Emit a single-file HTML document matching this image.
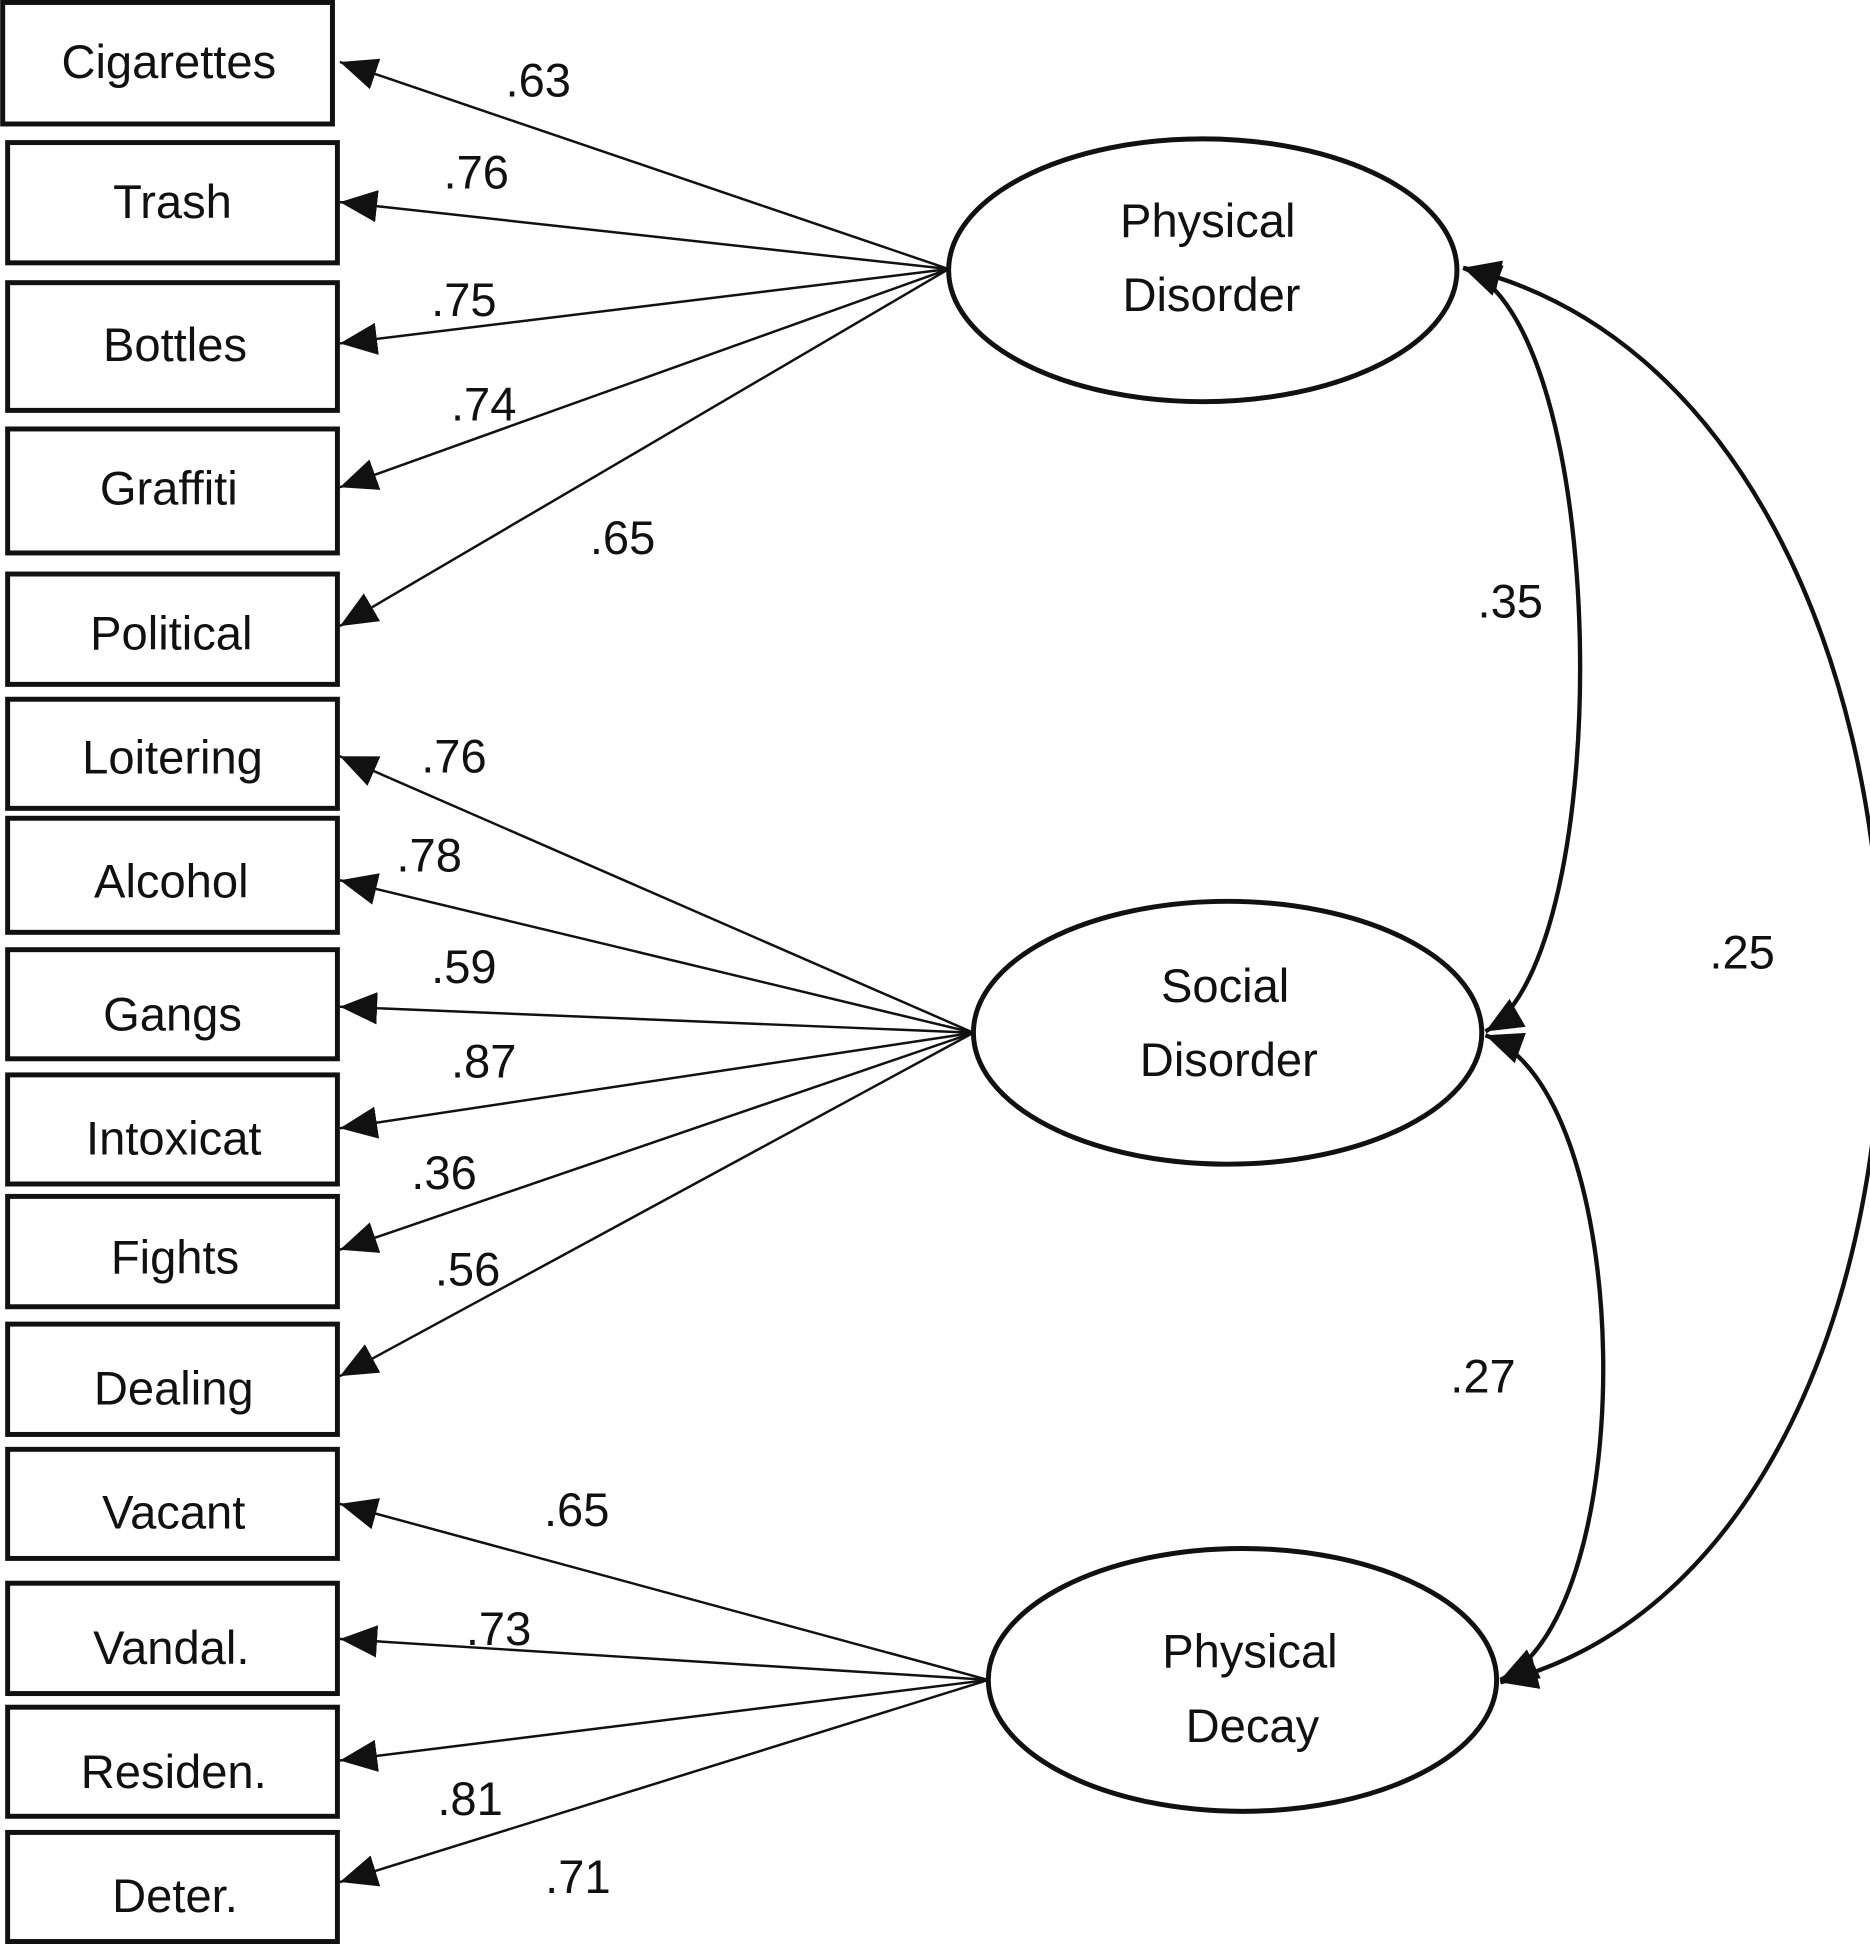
<!DOCTYPE html>
<html><head><meta charset="utf-8"><style>
html,body{margin:0;padding:0;background:#fff;}
svg{display:block;}
text{font-family:"Liberation Sans",sans-serif;fill:#111;}
</style></head><body>
<svg width="1870" height="1944" viewBox="0 0 1508 1568" xmlns="http://www.w3.org/2000/svg">
<defs>
<marker id="a" markerUnits="userSpaceOnUse" markerWidth="34" markerHeight="34" refX="30" refY="15" orient="auto-start-reverse" viewBox="0 0 34 30">
<path d="M0,2 L30,15 L0,28 Z" fill="#111"/>
</marker>
</defs>
<g fill="none" stroke="#111" stroke-width="4">
<rect x="2" y="2" width="266" height="98"/>
<rect x="6" y="115" width="266" height="97"/>
<rect x="6" y="228" width="266" height="103"/>
<rect x="6" y="346" width="266" height="100"/>
<rect x="6" y="463" width="266" height="89"/>
<rect x="6" y="564" width="266" height="88"/>
<rect x="6" y="660" width="266" height="92"/>
<rect x="6" y="766" width="266" height="88"/>
<rect x="6" y="867" width="266" height="88"/>
<rect x="6" y="965" width="266" height="89"/>
<rect x="6" y="1068" width="266" height="89"/>
<rect x="6" y="1169" width="266" height="88"/>
<rect x="6" y="1277" width="266" height="89"/>
<rect x="6" y="1377" width="266" height="88"/>
<rect x="6" y="1478" width="266" height="88"/>
<ellipse cx="970" cy="218" rx="205" ry="106"/>
<ellipse cx="990" cy="833" rx="205" ry="106"/>
<ellipse cx="1002" cy="1355" rx="205" ry="106"/>
</g>
<g stroke="#111" stroke-width="2" marker-end="url(#a)">
<line x1="765" y1="217" x2="274" y2="50"/>
<line x1="765" y1="217" x2="274" y2="163"/>
<line x1="765" y1="217" x2="274" y2="277"/>
<line x1="765" y1="217" x2="274" y2="393"/>
<line x1="765" y1="217" x2="274" y2="505"/>
<line x1="785" y1="833" x2="274" y2="610"/>
<line x1="785" y1="833" x2="274" y2="710"/>
<line x1="785" y1="833" x2="274" y2="812"/>
<line x1="785" y1="833" x2="274" y2="910"/>
<line x1="785" y1="833" x2="274" y2="1008"/>
<line x1="785" y1="833" x2="274" y2="1110"/>
<line x1="797" y1="1355" x2="274" y2="1213"/>
<line x1="797" y1="1355" x2="274" y2="1322"/>
<line x1="797" y1="1355" x2="274" y2="1420"/>
<line x1="797" y1="1355" x2="274" y2="1518"/>
</g>
<g fill="none" stroke="#111" stroke-width="3.5" marker-start="url(#a)" marker-end="url(#a)">
<path d="M1180,216 C1300,260 1305,770 1198,832"/>
<path d="M1198,835 C1320,880 1325,1300 1210,1355"/>
<path d="M1180,216 C1620,320 1630,1250 1210,1357"/>
</g>
<g font-size="38" text-anchor="middle">
<text x="136" y="63">Cigarettes</text>
<text x="139" y="176">Trash</text>
<text x="141" y="291">Bottles</text>
<text x="136" y="407">Graffiti</text>
<text x="138" y="524">Political</text>
<text x="139" y="624">Loitering</text>
<text x="138" y="724">Alcohol</text>
<text x="139" y="831">Gangs</text>
<text x="140" y="931">Intoxicat</text>
<text x="141" y="1027">Fights</text>
<text x="140" y="1133">Dealing</text>
<text x="140" y="1233">Vacant</text>
<text x="138" y="1342">Vandal.</text>
<text x="140" y="1442">Residen.</text>
<text x="141" y="1542">Deter.</text>
<text x="974" y="191">Physical</text>
<text x="977" y="251">Disorder</text>
<text x="988" y="808">Social</text>
<text x="991" y="868">Disorder</text>
<text x="1008" y="1345">Physical</text>
<text x="1010" y="1405">Decay</text>
</g>
<g font-size="38" text-anchor="middle">
<text x="434" y="78">.63</text>
<text x="384" y="152">.76</text>
<text x="374" y="255">.75</text>
<text x="390" y="339">.74</text>
<text x="502" y="447">.65</text>
<text x="366" y="623">.76</text>
<text x="346" y="703">.78</text>
<text x="374" y="793">.59</text>
<text x="390" y="869">.87</text>
<text x="358" y="959">.36</text>
<text x="377" y="1037">.56</text>
<text x="465" y="1231">.65</text>
<text x="402" y="1327">.73</text>
<text x="379" y="1464">.81</text>
<text x="466" y="1527">.71</text>
<text x="1218" y="498">.35</text>
<text x="1405" y="781">.25</text>
<text x="1196" y="1123">.27</text>
</g>
</svg>
</body></html>
